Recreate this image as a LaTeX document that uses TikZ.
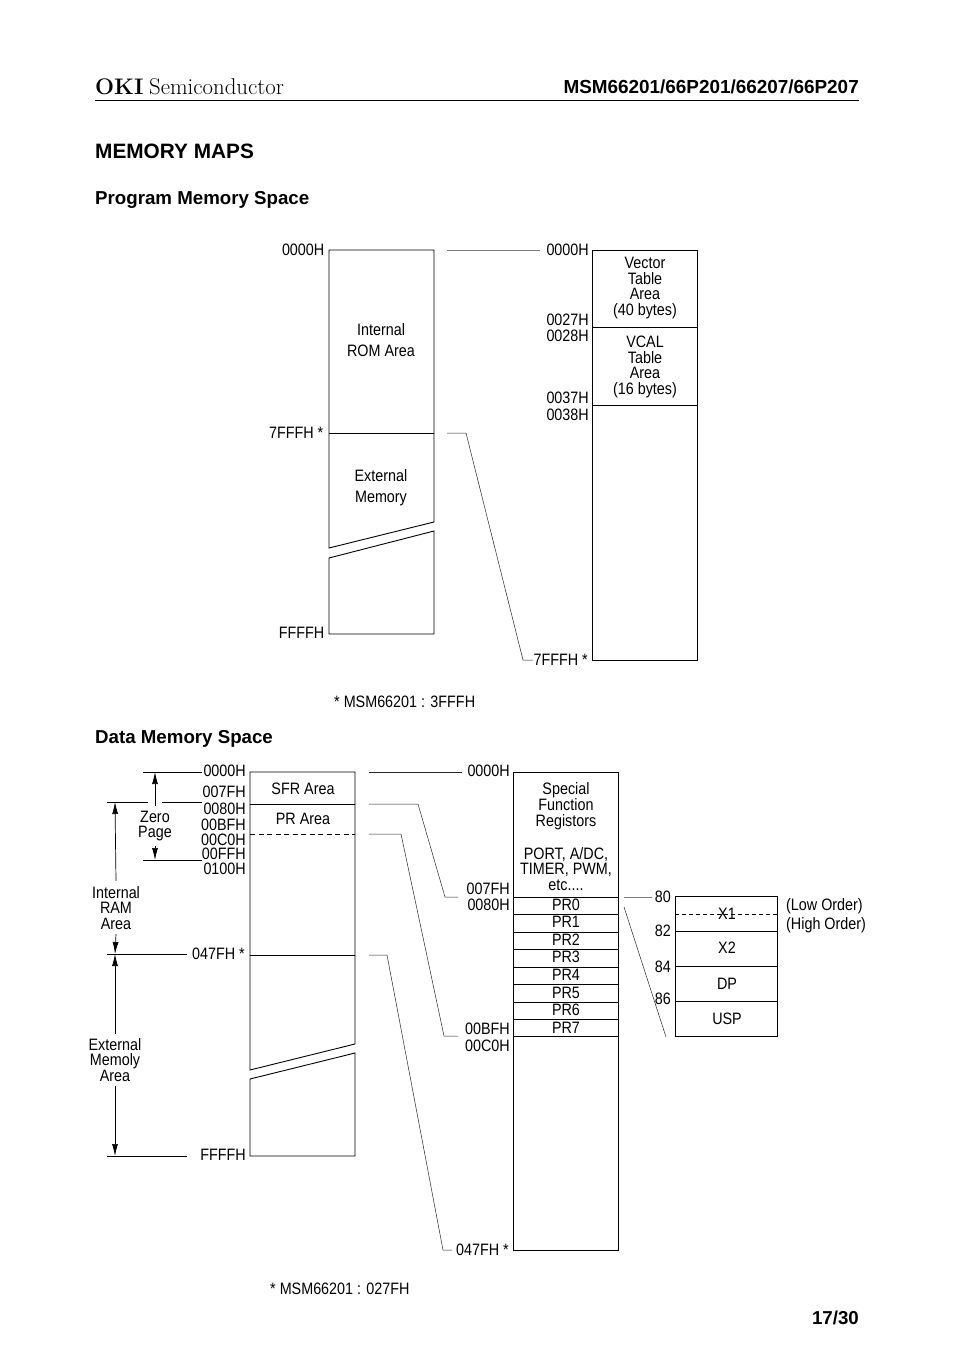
\documentclass[tikz,border=0pt]{standalone}
\usepackage{fontspec}
\usetikzlibrary{arrows.meta}
\newfontfamily\labelfont[FakeStretch=0.87]{Liberation Sans}
\newfontfamily\headfont{Liberation Sans}
\tikzset{
    addr/.style={anchor=east, inner sep=0pt, text height=12pt, text depth=0pt, font=\labelfont\fontsize{16.5}{16}\selectfont},
    area/.style={anchor=center, inner sep=0pt, align=center, font=\labelfont\fontsize{16.5}{15.8}\selectfont},
    wide/.style={area, font=\labelfont\fontsize{16.5}{21}\selectfont},
    boxline/.style={line width=0.9pt, black},
    leader/.style={line width=0.5pt, black!85},
    faint/.style={line width=0.6pt, black!50},
    dimline/.style={line width=0.7pt, black, -{Latex[length=12pt,width=6pt]}},
}
\begin{document}
\begin{tikzpicture}[x=1pt, y=-1pt]
    \useasboundingbox (0,0) rectangle (954,1348);

    % Page head
    \node[anchor=west, inner sep=0pt, font=\bfseries\fontsize{22.5}{24}\selectfont] (oki) at (95,87) {OKI};
    \node[anchor=west, inner sep=0pt, font=\fontsize{22.8}{24}\selectfont] (semi) at (149,87) {Semiconductor};
    \node[anchor=east, inner sep=0pt, font=\headfont\bfseries\fontsize{18.9}{19}\selectfont] (part) at (859,87) {MSM66201/66P201/66207/66P207};
    \draw[boxline] (95,100) -- (859,100);
    \node[anchor=west, inner sep=0pt, font=\headfont\bfseries\fontsize{20.8}{21}\selectfont] (title) at (95,151) {MEMORY MAPS};
    \node[anchor=west, inner sep=0pt, font=\headfont\bfseries\fontsize{18.7}{19}\selectfont] (progTitle) at (95,200) {Program Memory Space};
    \node[anchor=west, inner sep=0pt, font=\headfont\bfseries\fontsize{18.7}{19}\selectfont] (dataTitle) at (95,739) {Data Memory Space};
    \node[anchor=east, inner sep=0pt, font=\headfont\bfseries\fontsize{18.7}{19}\selectfont] (pageNo) at (859,1318) {17/30};

    % Program memory: left map
    \draw[boxline] (329,548) -- (329,250) -- (434,250) -- (434,522) -- cycle;
    \draw[boxline] (329,433) -- (434,433);
    \draw[boxline] (329,558) -- (434,531) -- (434,634) -- (329,634) -- cycle;
    \node[wide] (romArea) at (381,340.5) {Internal\\ROM Area};
    \node[wide] (extMem) at (381,487.5) {External\\Memory};
    \foreach \y/\txt/\nm in {249/0000H/a, 632/FFFFH/c}
        \node[addr] (pl\nm) at (324.5,\y) {\txt};
    \node[addr] (plb) at (323.5,432) {7FFFH *};

    % Program memory: right map
    \draw[boxline] (592,250) rectangle (697,660);
    \draw[boxline] (592,327) -- (697,327);
    \draw[boxline] (592,405) -- (697,405);
    \node[area] (vecArea) at (645,288) {Vector\\Table\\Area\\(40 bytes)};
    \node[area] (vcalArea) at (645,367) {VCAL\\Table\\Area\\(16 bytes)};
    \foreach \y/\txt/\nm in {249/0000H/a, 319/0027H/b, 335/0028H/c, 397/0037H/d, 414/0038H/e}
        \node[addr] (pr\nm) at (589,\y) {\txt};
    \node[addr] (prf) at (588,659) {7FFFH *};

    % Program memory: leaders
    \coordinate (progA) at (447,250);
    \coordinate (progB) at (540,250);
    \coordinate (progC) at (447,433);
    \coordinate (progD) at (466,433);
    \coordinate (progE) at (523,660);
    \coordinate (progF) at (533,660);
    \draw[faint] (progA) -- (progB);
    \draw[leader] (progC) -- (progD) -- (progE) -- (progF);
    \node[addr, anchor=west] (progNote) at (334,701) {* MSM66201 : 3FFFH};

    % Data memory: left map
    \draw[boxline] (250,1070) -- (250,772) -- (355,772) -- (355,1044) -- cycle;
    \draw[boxline] (250,804) -- (355,804);
    \draw[boxline, dashed, dash pattern=on 5pt off 3.5pt] (250,834) -- (355,834);
    \draw[boxline] (250,955) -- (355,955);
    \draw[boxline] (250,1079) -- (355,1053) -- (355,1156) -- (250,1156) -- cycle;
    \node[area] (sfrArea) at (303,789) {SFR Area};
    \node[area] (prArea) at (303,819) {PR Area};
    \foreach \y/\txt/\nm in {770/0000H/a, 791/007FH/b, 808/0080H/c, 824/00BFH/d, 839/00C0H/e, 853/00FFH/f, 868/0100H/g, 1154/FFFFH/i}
        \node[addr] (dl\nm) at (246,\y) {\txt};
    \node[addr] (dlh) at (245,953) {047FH *};

    % Data memory: dimension lines
    \node[area] (zeroPage) at (155,826) {Zero\\Page};
    \node[area] (ramArea) at (116,908) {Internal\\RAM\\Area};
    \node[area] (extArea) at (115,1060) {External\\Memoly\\Area};
    \coordinate (zeroTop) at (155,772);
    \coordinate (zeroBot) at (155,860);
    \coordinate (ramTop) at (115,802);
    \coordinate (ramBot) at (115,954);
    \coordinate (extBot) at (115,1156);
    \draw[boxline] (143,772) -- (202,772);
    \draw[boxline] (143,860) -- (202,860);
    \draw[boxline] (107,802) -- (148,802);
    \draw[boxline] (162,802) -- (202,802);
    \draw[boxline] (107,954) -- (187,954);
    \draw[boxline] (107,1156) -- (187,1156);
    \draw[dimline] (zeroPage.north) ++(0,-5) -- (zeroTop);
    \draw[dimline] (zeroPage.south) ++(0,5) -- (zeroBot);
    \draw[dimline] (ramArea.north) ++(0,-5) -- (ramTop);
    \draw[dimline] (ramArea.south) ++(0,4) -- (ramBot);
    \draw[dimline] (extArea.north) ++(0,-4) -- (ramBot);
    \draw[dimline] (extArea.south) ++(0,4) -- (extBot);

    % Data memory: register map
    \draw[boxline] (513,772) rectangle (618,1250);
    \foreach \y in {897,914,932,949,967,984,1002,1019,1036}
        \draw[boxline] (513,\y) -- (618,\y);
    \node[area] (sfrTitle) at (566,806) {Special\\Function\\Registors};
    \node[area] (sfrList) at (566,869) {PORT, A/DC,\\TIMER, PWM,\\etc....};
    \foreach \i/\y in {0/905,1/922,2/940,3/957,4/975,5/993,6/1010,7/1028}
        \node[area] (pr\i) at (566,\y) {PR\i};
    \foreach \y/\txt/\nm in {770/0000H/a, 888/007FH/b, 904/0080H/c, 1028/00BFH/d, 1045/00C0H/e}
        \node[addr] (dm\nm) at (510,\y) {\txt};
    \node[addr] (dmf) at (509,1249) {047FH *};

    % Data memory: leaders
    \coordinate (sfrA) at (369,772);
    \coordinate (sfrB) at (462,772);
    \coordinate (prA) at (369,804);
    \coordinate (prB) at (418,804);
    \coordinate (prC) at (445,897);
    \coordinate (prD) at (458,897);
    \coordinate (pcA) at (369,834);
    \coordinate (pcB) at (401,834);
    \coordinate (pcC) at (444,1036);
    \coordinate (pcD) at (458,1036);
    \coordinate (ramA) at (369,955);
    \coordinate (ramB) at (387,955);
    \coordinate (ramC) at (443,1250);
    \coordinate (ramD) at (452,1250);
    \draw[leader] (sfrA) -- (sfrB);
    \draw[leader] (prA) -- (prB) -- (prC) -- (prD);
    \draw[leader] (pcA) -- (pcB) -- (pcC) -- (pcD);
    \draw[leader] (ramA) -- (ramB) -- (ramC) -- (ramD);
    \node[addr, anchor=west] (dataNote) at (270,1288) {* MSM66201 : 027FH};

    % Pointing registers
    \draw[boxline] (675,896) rectangle (777,1036);
    \foreach \y in {931,966,1001}
        \draw[boxline] (675,\y) -- (777,\y);
    \draw[boxline, dashed, dash pattern=on 4pt off 3pt] (675,914) -- (777,914);
    \foreach \y/\txt/\nm in {914/X1/a, 948/X2/b, 984/DP/c, 1019/USP/d}
        \node[area] (reg\nm) at (727,\y) {\txt};
    \foreach \y/\txt in {896/80, 930/82, 966/84, 998/86}
        \node[addr] (off\txt) at (671,\y) {\txt};
    \node[addr, anchor=west] (lowOrder) at (786,904) {(Low Order)};
    \node[addr, anchor=west] (highOrder) at (786,923) {(High Order)};
    \coordinate (regA) at (624,897);
    \coordinate (regB) at (652,897);
    \coordinate (regC) at (624,907);
    \coordinate (regD) at (666,1037);
    \draw[faint] (regA) -- (regB);
    \draw[leader] (regC) -- (regD);

\end{tikzpicture}
\end{document}
